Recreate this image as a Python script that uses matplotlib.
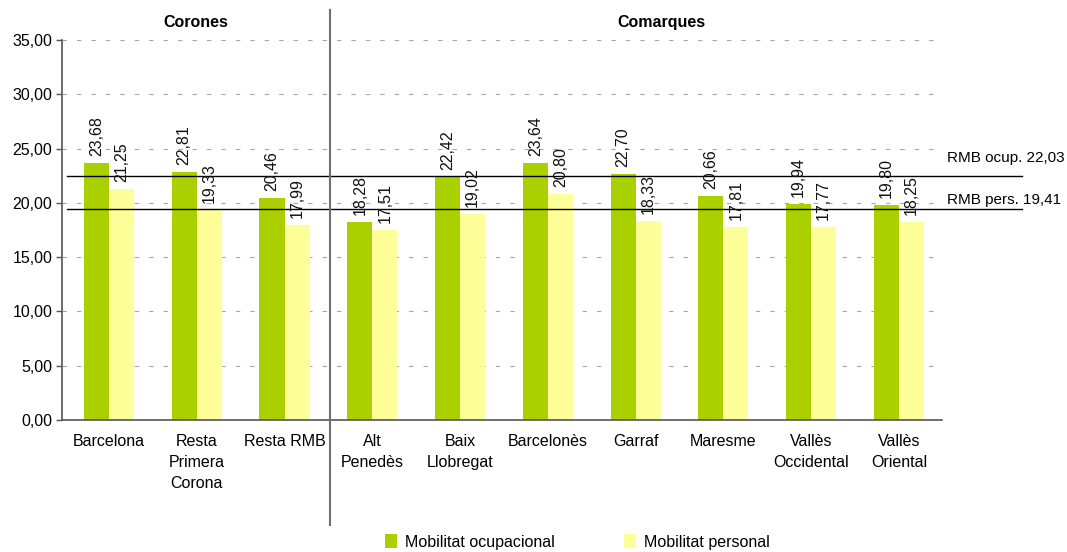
import matplotlib
matplotlib.use("Agg")

import matplotlib.pyplot as plt
import numpy as np

plt.rcParams["font.family"] = ["Liberation Sans", "DejaVu Sans"]

categories = [
    "Barcelona",
    "Resta\nPrimera\nCorona",
    "Resta RMB",
    "Alt\nPenedès",
    "Baix\nLlobregat",
    "Barcelonès",
    "Garraf",
    "Maresme",
    "Vallès\nOccidental",
    "Vallès\nOriental",
]

ocupacional = [23.68, 22.81, 20.46, 18.28, 22.42, 23.64, 22.70, 20.66, 19.94, 19.80]
personal = [21.25, 19.33, 17.99, 17.51, 19.02, 20.80, 18.33, 17.81, 17.77, 18.25]

series_names = ["Mobilitat ocupacional", "Mobilitat personal"]
group_names = ["Corones", "Comarques"]

# reference lines: where they are drawn, and the value written next to them
rmb_lines = [22.45, 19.41]
rmb_labels = ["RMB ocup. 22,03", "RMB pers. 19,41"]

yticks = [0, 5, 10, 15, 20, 25, 30, 35]

green = "#AAD000"
yellow = "#FFFF99"


def fmt(v):
    return f"{v:.2f}".replace(".", ",")


fig = plt.figure(figsize=(10.67, 5.52), dpi=100)
ax = fig.add_axes([0.0581, 0.2391, 0.8247, 0.6884])

x = np.arange(len(categories))
w = 0.285

bars_o = ax.bar(x - w / 2, ocupacional, w, color=green, label=series_names[0], zorder=2)
bars_p = ax.bar(x + w / 2, personal, w, color=yellow, label=series_names[1], zorder=2)

for bars, vals in [(bars_o, ocupacional), (bars_p, personal)]:
    for b, v in zip(bars, vals):
        ax.annotate(
            fmt(v),
            (b.get_x() + b.get_width() / 2, v),
            xytext=(0, 5),
            textcoords="offset points",
            rotation=90,
            ha="center",
            va="bottom",
            fontsize=11.5,
            color="#111111",
            zorder=4,
        )

ax.set_xlim(-0.535, 9.49)
ax.set_ylim(0, 35)
ax.set_yticks(yticks)
ax.set_yticklabels([fmt(t) for t in yticks], fontsize=11.5)
ax.set_xticks(x)
ax.set_xticklabels(categories, fontsize=11.5, linespacing=1.5, va="top")
ax.tick_params(axis="x", length=0, pad=10)
ax.tick_params(axis="y", length=4, width=1, color="#555555", pad=3)

ax.yaxis.grid(True, color="#A8A8A8", linestyle=(0, (4, 9)), linewidth=0.8, zorder=0)
ax.set_axisbelow(True)

for s in ["top", "right"]:
    ax.spines[s].set_visible(False)
ax.spines["left"].set_color("#555555")
ax.spines["bottom"].set_color("#555555")
ax.spines["left"].set_linewidth(1.2)
ax.spines["bottom"].set_linewidth(1.2)

# reference lines running past the plot area to the labels
for yv, lab, dy in zip(rmb_lines, rmb_labels, [13, 7]):
    ax.plot([-0.48, 10.4], [yv, yv], color="black", linewidth=1, clip_on=False, zorder=3)
    ax.annotate(
        lab,
        (9.55, yv),
        xytext=(0, dy),
        textcoords="offset points",
        ha="left",
        va="center",
        fontsize=11,
        annotation_clip=False,
    )

# divider between the two groups
ax.plot([2.52, 2.52], [-9.7, 37.8], color="#707070", linewidth=1.5, clip_on=False, zorder=3)

ax.text(0.99, 36.65, group_names[0], ha="center", va="center", fontsize=11.5, fontweight="bold")
ax.text(6.29, 36.65, group_names[1], ha="center", va="center", fontsize=11.5, fontweight="bold")

fig.legend(
    loc="center",
    bbox_to_anchor=(0.541, 0.018),
    ncol=2,
    frameon=False,
    fontsize=11.5,
    handlelength=0.75,
    handleheight=0.9,
    handletextpad=0.5,
    columnspacing=4.3,
)

fig.savefig("out.png", dpi=100)
